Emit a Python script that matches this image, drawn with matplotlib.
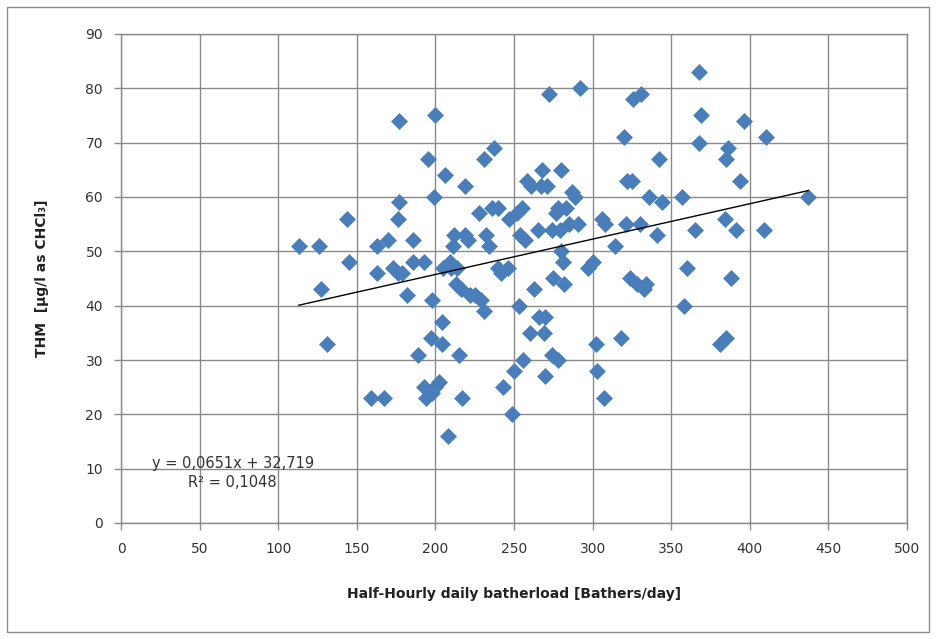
import matplotlib
matplotlib.use("Agg")
import matplotlib.pyplot as plt
from matplotlib.patches import Rectangle

batherload = [113, 126, 127, 131, 144, 145, 159, 163, 163, 167, 170, 173, 176, 177, 177, 176, 179, 182,
              186, 186, 189, 193, 193, 194, 195, 197, 198, 198, 199, 200, 200, 202, 204, 204, 205, 206,
              208, 209, 210, 211, 212, 213, 214, 215, 216, 217, 219, 219, 221, 222, 225, 228, 229, 231,
              231, 232, 234, 236, 237, 240, 240, 242, 243, 246, 247, 249, 250, 252, 253, 254, 255, 256,
              257, 258, 260, 261, 263, 265, 266, 267, 268, 269, 270, 270, 271, 272, 274, 274, 275, 277,
              278, 278, 279, 280, 280, 281, 282, 283, 285, 287, 289, 291, 292, 297, 300, 302, 303, 306,
              307, 308, 314, 318, 320, 321, 322, 324, 325, 326, 328, 330, 331, 333, 334, 336, 341, 342,
              344, 357, 358, 360, 365, 368, 368, 369, 381, 384, 385, 385, 386, 388, 391, 394, 396, 409,
              410, 437]
thm = [51, 51, 43, 33, 56, 48, 23, 46, 51, 23, 52, 47, 46, 74, 59, 56, 46, 42,
       48, 52, 31, 48, 25, 23, 67, 34, 41, 24, 60, 75, 25, 26, 37, 33, 47, 64,
       16, 48, 47, 51, 53, 44, 47, 31, 43, 23, 53, 62, 52, 42, 42, 57, 41, 39,
       67, 53, 51, 58, 69, 58, 47, 46, 25, 47, 56, 20, 28, 57, 40, 53, 58, 30,
       52, 63, 35, 62, 43, 54, 38, 62, 65, 35, 27, 38, 62, 79, 54, 31, 45, 57,
       30, 58, 54, 50, 65, 48, 44, 58, 55, 61, 60, 55, 80, 47, 48, 33, 28, 56,
       23, 55, 51, 34, 71, 55, 63, 45, 63, 78, 44, 55, 79, 43, 44, 60, 53, 67,
       59, 60, 40, 47, 54, 70, 83, 75, 33, 56, 34, 67, 69, 45, 54, 63, 74, 54,
       71, 60]

slope = 0.0651
intercept = 32.719
trend_x = [113, 437]
eq_text = "y = 0,0651x + 32,719"
r2_text = "R² = 0,1048"

x_ticks = [0, 50, 100, 150, 200, 250, 300, 350, 400, 450, 500]
y_ticks = [0, 10, 20, 30, 40, 50, 60, 70, 80, 90]
x_label = "Half-Hourly daily batherload [Bathers/day]"
y_label = "THM  [µg/l as CHCl₃]"

W, H = 937, 639
fig = plt.figure(figsize=(W / 100, H / 100), dpi=100)
fig.patch.set_facecolor("white")
fig.patches.append(Rectangle((7 / W, 7 / H), 922 / W, 625 / H, transform=fig.transFigure,
                             fill=False, edgecolor="#8c8c8c", linewidth=1.0))

ax = fig.add_axes([121 / W, (H - 523) / H, 786 / W, 489 / H])
ax.set_xlim(0, 500)
ax.set_ylim(0, 90)
ax.set_xticks(x_ticks)
ax.set_yticks(y_ticks)
ax.grid(True, color="#8a8a8a", linewidth=1.0)
ax.set_axisbelow(True)
for s in ax.spines.values():
    s.set_color("#8a8a8a")
    s.set_linewidth(1.0)
ax.tick_params(axis="both", colors="#8a8a8a", labelcolor="#333333", labelsize=10, length=5, width=1.0)
ax.tick_params(axis="y", pad=8)
ax.tick_params(axis="x", pad=9)

ax.scatter(batherload, thm, marker="D", s=66, color="#4a7ebb", edgecolors="#4a7ebb",
           linewidths=0.5, zorder=3)
trend_y = [slope * v + intercept for v in trend_x]
ax.plot(trend_x, trend_y, color="black", linewidth=1.0, zorder=4)

ax.text(71, 11.0, eq_text, ha="center", va="center", fontsize=10.5, color="#333333", zorder=5)
ax.text(71, 7.5, r2_text, ha="center", va="center", fontsize=10.5, color="#333333", zorder=5)

ax.set_xlabel(x_label, fontsize=10, fontweight="bold", color="#222222", labelpad=22)
ax.set_ylabel(y_label, fontsize=10, fontweight="bold", color="#222222", labelpad=26)

fig.savefig("out.png", dpi=100)
